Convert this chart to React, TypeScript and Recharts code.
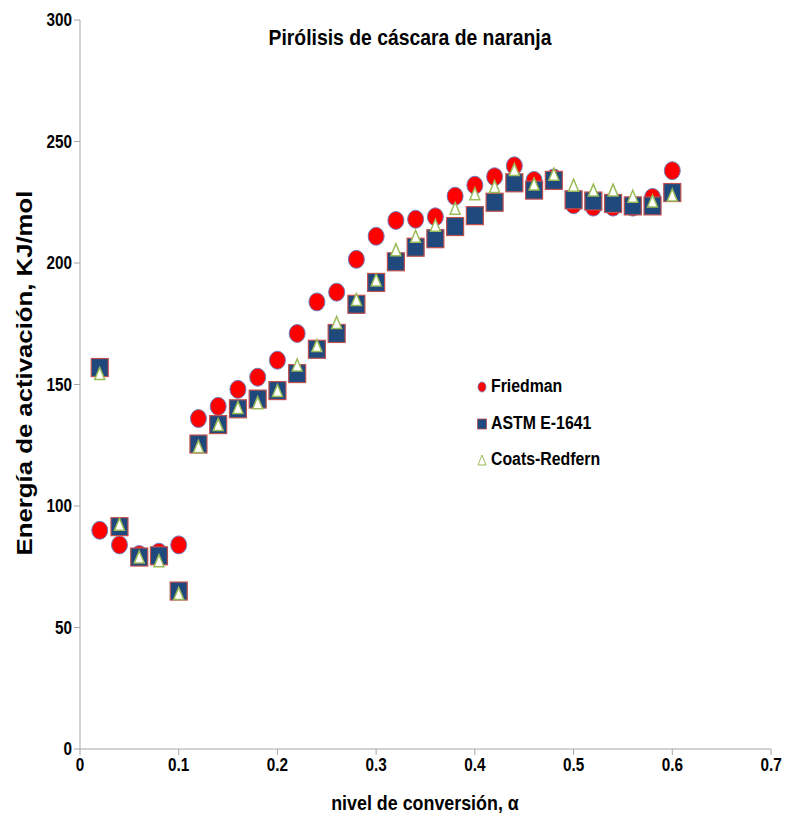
import { ScatterChart, Scatter, XAxis, YAxis } from 'recharts';

// conversion level alpha
const alpha = [
  0.02, 0.04, 0.06, 0.08, 0.1, 0.12, 0.14, 0.16, 0.18, 0.2, 0.22, 0.24, 0.26, 0.28, 0.3,
  0.32, 0.34, 0.36, 0.38, 0.4, 0.42, 0.44, 0.46, 0.48, 0.5, 0.52, 0.54, 0.56, 0.58, 0.6,
];

// activation energy, KJ/mol
const friedman = [
  90, 84, 80, 81, 84, 136, 141, 148, 153, 160, 171, 184, 188, 201.5, 211,
  217.5, 218, 219, 227.5, 232, 235.5, 240, 234, 235, 224, 223, 223, 223, 227, 238,
];
const astm = [
  157, 91.5, 79, 79.5, 65, 125.5, 133.5, 140, 144, 147.5, 154.5, 164.5, 171, 183, 192,
  200.5, 206.5, 210, 215, 219.5, 225, 233, 230, 234, 226, 225.5, 224.5, 223.5, 223.5, 229,
];
const coatsRedfern = [
  154.5, 92.5, 79, 77.5, 64, 124.5, 133.5, 140.5, 142.5, 147.5, 158, 166, 175.5, 185, 193,
  205.5, 211, 215.5, 222.5, 228.5, 231.5, 238.5, 232.5, 236.5, 232, 230, 230, 227.5, 225.5, 228,
];

const xTicks = [0, 0.1, 0.2, 0.3, 0.4, 0.5, 0.6, 0.7];
const yTicks = [0, 50, 100, 150, 200, 250, 300];

const toPoints = (ys: number[]) => alpha.map((x, i) => ({ x, y: ys[i] }));

const font = '"Liberation Sans", Arial, sans-serif';

const CircleMark = (props: any) => {
  const { cx, cy } = props;
  return <ellipse cx={cx} cy={cy} rx={8} ry={9} fill="#ff0000" stroke="#6f7fbf" strokeWidth={1} />;
};

const SquareMark = (props: any) => {
  const { cx, cy } = props;
  return (
    <rect x={cx - 8.5} y={cy - 9} width={17} height={18} fill="#1f497d" stroke="#c0504d" strokeWidth={1.2} />
  );
};

const TriangleMark = (props: any) => {
  const { cx, cy } = props;
  const pts = `${cx},${cy - 6} ${cx + 5},${cy + 6} ${cx - 5},${cy + 6}`;
  return <polygon points={pts} fill="#ffffff" stroke="#9bbb59" strokeWidth={1.5} />;
};

// narrow bold tick labels, like the original
const NarrowTick = (props: any) => {
  const { x, y, payload, textAnchor, axis } = props;
  const label = axis === 'x' ? String(Number(payload.value.toFixed(1))) : String(payload.value);
  return (
    <g transform={`translate(${x},${y})`}>
      <text
        transform="scale(0.85,1)"
        textAnchor={textAnchor}
        dy={axis === 'x' ? 14 : 6}
        fill="#000"
        fontSize={18}
        fontWeight="bold"
        fontFamily={font}
      >
        {label}
      </text>
    </g>
  );
};

const legendRows = [
  { label: 'Friedman', top: 376, mark: <ellipse cx={6} cy={8} rx={4} ry={5} fill="#ff0000" stroke="#6f7fbf" strokeWidth={0.8} /> },
  { label: 'ASTM E-1641', top: 413, mark: <rect x={1.5} y={3} width={9} height={10} fill="#1f497d" stroke="#c0504d" strokeWidth={0.8} /> },
  { label: 'Coats-Redfern', top: 449, mark: <polygon points="6,3 10,13 2,13" fill="#ffffff" stroke="#9bbb59" strokeWidth={1} /> },
];

export default function App() {
  return (
    <div style={{ position: 'absolute', left: 0, top: 0, width: 789, height: 830, background: '#fff', fontFamily: font }}>
      <ScatterChart width={789} height={830} margin={{ top: 20, right: 18, left: 20, bottom: 41 }}>
        <XAxis
          type="number"
          dataKey="x"
          domain={[0, 0.7]}
          ticks={xTicks}
          stroke="#a6a6a6"
          tickSize={6}
          height={40}
          tick={(p: any) => <NarrowTick {...p} axis="x" />}
        />
        <YAxis
          type="number"
          dataKey="y"
          domain={[0, 300]}
          ticks={yTicks}
          stroke="#a6a6a6"
          tickSize={6}
          width={60}
          tick={(p: any) => <NarrowTick {...p} axis="y" />}
        />
        <Scatter name="Friedman" data={toPoints(friedman)} shape={CircleMark} isAnimationActive={false} />
        <Scatter name="ASTM E-1641" data={toPoints(astm)} shape={SquareMark} isAnimationActive={false} />
        <Scatter name="Coats-Redfern" data={toPoints(coatsRedfern)} shape={TriangleMark} isAnimationActive={false} />
      </ScatterChart>
      <div
        style={{ position: 'absolute', top: 25, left: 210, width: 400, textAlign: 'center', fontSize: 22.5, fontWeight: 'bold', transform: 'scaleX(0.86)', color: '#000', whiteSpace: 'nowrap' }}
      >
        Pirólisis de cáscara de naranja
      </div>
      <div
        style={{ position: 'absolute', top: 791, left: 275, width: 300, textAlign: 'center', fontSize: 21, fontWeight: 'bold', transform: 'scaleX(0.85)', color: '#000', whiteSpace: 'nowrap' }}
      >
        nivel de conversión, α
      </div>
      <div
        style={{ position: 'absolute', top: 373 - 14, left: 25 - 200, width: 400, height: 28, lineHeight: '28px', textAlign: 'center', fontSize: 22, fontWeight: 'bold', transform: 'rotate(-90deg) scaleX(1.17)', color: '#000', whiteSpace: 'nowrap' }}
      >
        Energía de activación, KJ/mol
      </div>
      {legendRows.map((r) => (
        <div key={r.label} style={{ position: 'absolute', left: 476, top: r.top, display: 'flex', alignItems: 'center', fontSize: 18, fontWeight: 'bold' }}>
          <svg width={12} height={16} style={{ marginRight: 3 }}>{r.mark}</svg>
          <span style={{ display: 'inline-block', transform: 'scaleX(0.88)', transformOrigin: 'left center', whiteSpace: 'nowrap' }}>{r.label}</span>
        </div>
      ))}
    </div>
  );
}
